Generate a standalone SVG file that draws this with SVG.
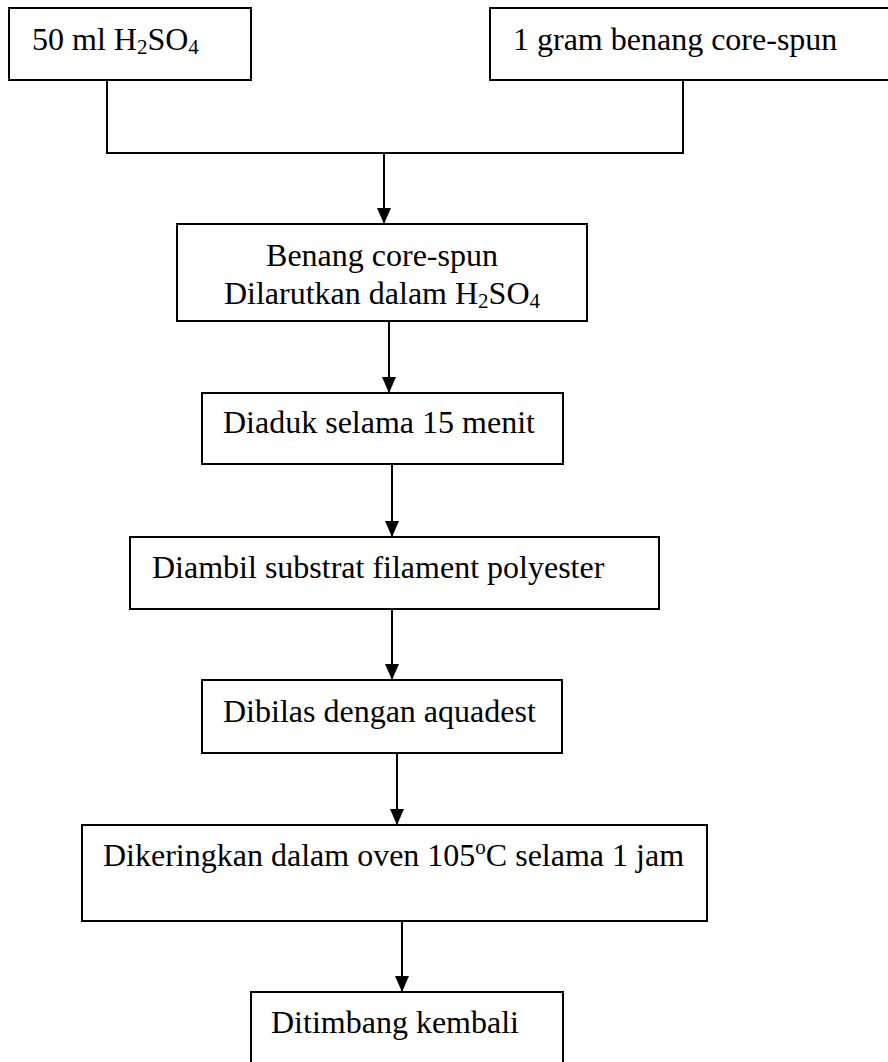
<svg xmlns="http://www.w3.org/2000/svg" width="888" height="1062" viewBox="0 0 888 1062">
<defs>
<style>
.box{fill:#fff;stroke:#000;stroke-width:2}
.t{font-family:"Liberation Serif","Times New Roman",serif;font-size:32px;fill:#000}
.sub{font-size:21px}
.c{fill:none;stroke:#000;stroke-width:2}
</style>
<marker id="ah" viewBox="0 0 16 14" refX="16" refY="7" markerWidth="16" markerHeight="14" markerUnits="userSpaceOnUse" orient="auto">
<path d="M0,0 L16,7 L0,14 z" fill="#000"/>
</marker>
</defs>
<rect width="888" height="1062" fill="#fff"/>
<g id="connectors">
<path class="c" d="M107,80 V153 H683 V80"/>
<path class="c" d="M384,153 V224" marker-end="url(#ah)"/>
<path class="c" d="M389,321 V393" marker-end="url(#ah)"/>
<path class="c" d="M392,464 V537" marker-end="url(#ah)"/>
<path class="c" d="M392,609 V680" marker-end="url(#ah)"/>
<path class="c" d="M397,753 V825" marker-end="url(#ah)"/>
<path class="c" d="M402,921 V992" marker-end="url(#ah)"/>
</g>
<g id="n1">
<rect class="box" x="9" y="8" width="242" height="72"/>
<text class="t" x="32" y="50">50 ml H<tspan class="sub" dy="4">2</tspan><tspan dy="-4">SO</tspan><tspan class="sub" dy="4">4</tspan></text>
</g>
<g id="n2">
<rect class="box" x="490" y="8" width="400" height="72"/>
<text class="t" x="513" y="50">1 gram benang core-spun</text>
</g>
<g id="n3">
<rect class="box" x="177" y="224" width="410" height="97"/>
<text class="t" x="382" y="266" text-anchor="middle">Benang core-spun</text>
<text class="t" x="382" y="304" text-anchor="middle">Dilarutkan dalam H<tspan class="sub" dy="4">2</tspan><tspan dy="-4">SO</tspan><tspan class="sub" dy="4">4</tspan></text>
</g>
<g id="n4">
<rect class="box" x="202" y="393" width="361" height="71"/>
<text class="t" x="223" y="433">Diaduk selama 15 menit</text>
</g>
<g id="n5">
<rect class="box" x="130" y="537" width="529" height="72"/>
<text class="t" x="152" y="578">Diambil substrat filament polyester</text>
</g>
<g id="n6">
<rect class="box" x="202" y="680" width="360" height="73"/>
<text class="t" x="223" y="722">Dibilas dengan aquadest</text>
</g>
<g id="n7">
<rect class="box" x="82" y="825" width="625" height="96"/>
<text class="t" x="103" y="866">Dikeringkan dalam oven 105<tspan class="sub" dy="-12">o</tspan><tspan dy="12">C selama 1 jam</tspan></text>
</g>
<g id="n8">
<rect class="box" x="251" y="992" width="312" height="80"/>
<text class="t" x="271" y="1033">Ditimbang kembali</text>
</g>
</svg>
